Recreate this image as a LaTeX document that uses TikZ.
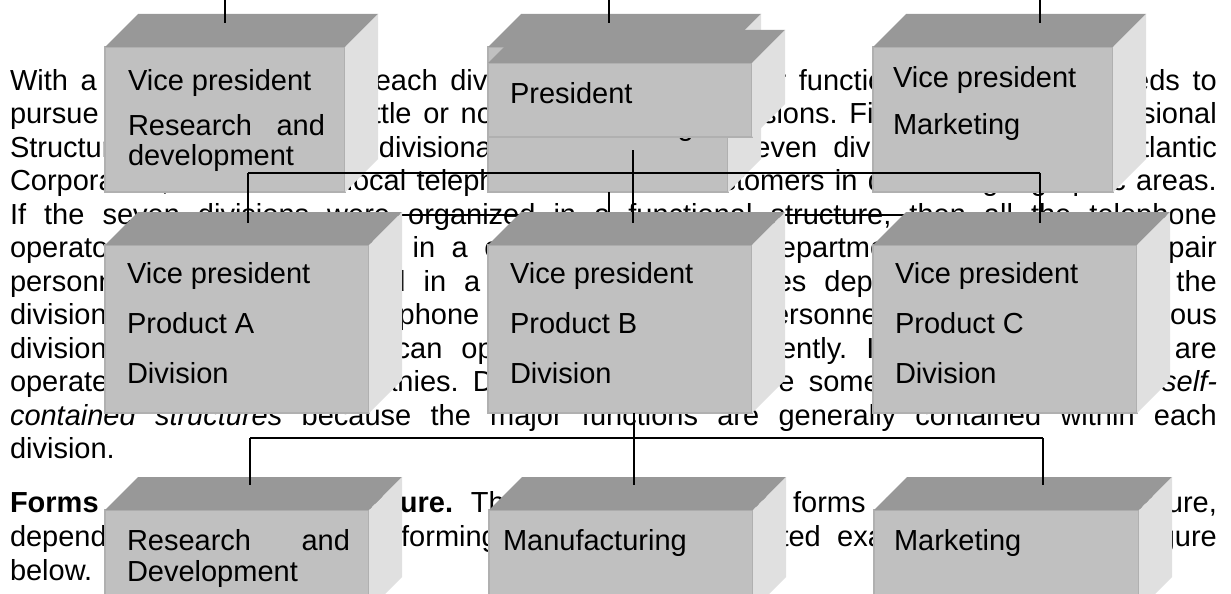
\documentclass[tikz,border=0pt]{standalone}
\usepackage{fontspec}
\setmainfont{Liberation Sans}
\usetikzlibrary{positioning}
\definecolor{frontgray}{RGB}{192,192,192}
\definecolor{topgray}{RGB}{152,152,152}
\definecolor{sidegray}{RGB}{224,224,224}
\definecolor{edgegray}{RGB}{176,176,176}
\frenchspacing

% top and right faces of a box whose front face is node #1
\newcommand{\boxfaces}[1]{%
  \fill[topface] (#1.north west) -- ++(33,-33) -- ([shift={(33,-33)}]#1.north east) -- (#1.north east) -- cycle;
  \fill[sideface] (#1.north east) -- ++(33,-33) -- ([shift={(33,-33)}]#1.south east) -- (#1.south east) -- cycle;}

\begin{document}
\begin{tikzpicture}[x=1pt, y=-1pt,
    every node/.style={inner sep=0pt, outer sep=0pt, font=\fontsize{29}{33.5}\selectfont},
    paraline/.style={anchor=base west},
    frontface/.style={fill=frontgray, draw=edgegray, line width=1.5pt, anchor=north west},
    topface/.style={fill=topgray},
    sideface/.style={fill=sidegray},
    boxlabel/.style={anchor=base west},
    link/.style={draw=black, line width=1.6pt}
]
\useasboundingbox (0,0) rectangle (1231,594);
\fill[white] (0,0) rectangle (1231,594);
\clip (0,0) rectangle (1231,594);

% text of the page
\node[paraline] (l1) at (10,90) {\makebox[1207pt][s]{With a divisional structure, each division has all the major functions that the unit needs to}};
\node[paraline] (l2) at (10,123.5) {\makebox[1207pt][s]{pursue its own goals with little or no help from other divisions. Figure 2 shows a Divisional}};
\node[paraline] (l3) at (10,157) {\makebox[1207pt][s]{Structure. It illustrates the divisional structure of the seven divisions of the Bell Atlantic}};
\node[paraline] (l4) at (10,190.5) {\makebox[1207pt][s]{Corporation, which offers local telephone service to customers in different geographic areas.}};
\node[paraline] (l5) at (10,224) {\makebox[1207pt][s]{If the seven divisions were organized in a functional structure, then all the telephone}};
\node[paraline] (l6) at (10,257.5) {\makebox[1207pt][s]{operators would be grouped in a centralized services department, and all of the repair}};
\node[paraline] (l7) at (10,291) {\makebox[1207pt][s]{personnel would be grouped in a separate field services department. However, in the}};
\node[paraline] (l8) at (10,324.5) {\makebox[1207pt][s]{divisional structure, all the telephone operators and repair personnel are located in the various}};
\node[paraline] (l9) at (10,358) {\makebox[1207pt][s]{divisions, so each division can operate quite independently. In essence, divisions are}};
\node[paraline] (l10) at (10,391.5) {\makebox[1207pt][s]{operated as separate companies. Divisional structures are sometimes referred to as \textit{self-}}};
\node[paraline] (l11) at (10,425) {\makebox[1207pt][s]{\textit{contained structures} because the major functions are generally contained within each}};
\node[paraline] (l12) at (10,458.5) {division.};
\node[paraline] (l13) at (10,512) {\makebox[1207pt][s]{\textbf{Forms of Divisional Structure.} There are three basic forms of a divisional structure,}};
\node[paraline] (l14) at (10,546) {\makebox[1207pt][s]{depending on the basis for forming divisions, as illustrated examples in the next figure}};
\node[paraline] (l15) at (10,580) {below.};

% functional chart
\node[frontface, minimum width=240, minimum height=145] (vprd) at (105,47) {};
\boxfaces{vprd}
\node[boxlabel] (vprd-a) at ([shift={(23,43)}]vprd.north west) {Vice president};
\node[boxlabel] (vprd-b) at ([shift={(23,88)}]vprd.north west) {\makebox[197pt][s]{Research and}};
\node[boxlabel] (vprd-c) at ([shift={(23,118)}]vprd.north west) {development};

\node[frontface, minimum width=240, minimum height=145] (vpmfg) at (488,47) {};
\boxfaces{vpmfg}
\node[boxlabel] (vpmfg-a) at ([shift={(22,43)}]vpmfg.north west) {Vice president};
\node[boxlabel] (vpmfg-b) at ([shift={(22,88)}]vpmfg.north west) {Manufacturing};

\node[frontface, minimum width=240, minimum height=145] (vpmkt) at (873,47) {};
\boxfaces{vpmkt}
\node[boxlabel] (vpmkt-a) at ([shift={(20,41)}]vpmkt.north west) {Vice president};
\node[boxlabel] (vpmkt-b) at ([shift={(20,87)}]vpmkt.north west) {Marketing};

\coordinate (up1) at (225,0);
\coordinate (up2) at (609,0);
\coordinate (up3) at (1040,0);
\draw[link] (up1) -- ++(0,23);
\draw[link] (up2) -- ++(0,23);
\draw[link] (up3) -- ++(0,23);

% divisional chart
\node[frontface, minimum width=264, minimum height=74] (pres) at (488,63) {};
\boxfaces{pres}
\node[boxlabel] (pres-a) at ([shift={(22,40)}]pres.north west) {President};

\coordinate (bar1) at (248,215);
\coordinate (bar2) at (1040,215);
\draw[link] (vpmfg.south -| up2) -- (up2 |- bar1);
\draw[link] (bar1) -- (bar2);

\node[frontface, minimum width=264, minimum height=168] (proda) at (105,245) {};
\boxfaces{proda}
\node[frontface, minimum width=264, minimum height=168] (prodb) at (488,245) {};
\boxfaces{prodb}
\node[frontface, minimum width=264, minimum height=168] (prodc) at (873,245) {};
\boxfaces{prodc}
\foreach \n/\p in {proda/A, prodb/B, prodc/C} {
  \node[boxlabel] (\n-a) at ([shift={(22,38)}]\n.north west) {Vice president};
  \node[boxlabel] (\n-b) at ([shift={(22,88)}]\n.north west) {Product \p};
  \node[boxlabel] (\n-c) at ([shift={(22,138)}]\n.north west) {Division};
}

\coordinate (stem) at (633,150);
\coordinate (fork) at (633,173);
\coordinate (forka) at (248,173);
\coordinate (forkc) at (1040,173);
\draw[link] (stem) -- (fork |- 0,223);
\draw[link] (forka) -- (forkc);
\draw[link] (forka) -- ++(0,50);
\draw[link] (forkc) -- ++(0,50);

% departments
\node[frontface, minimum width=264, minimum height=100] (rd) at (105,510) {};
\boxfaces{rd}
\node[frontface, minimum width=264, minimum height=100] (mfg) at (489,510) {};
\boxfaces{mfg}
\node[frontface, minimum width=265, minimum height=100] (mkt) at (874,510) {};
\boxfaces{mkt}
\node[boxlabel] (rd-a) at ([shift={(22,40)}]rd.north west) {\makebox[223pt][s]{Research and}};
\node[boxlabel] (rd-b) at ([shift={(22,71)}]rd.north west) {Development};
\node[boxlabel] (mfg-a) at ([shift={(14,40)}]mfg.north west) {Manufacturing};
\node[boxlabel] (mkt-a) at ([shift={(20,40)}]mkt.north west) {Marketing};

\coordinate (dstem) at (634,413);
\coordinate (dfork) at (634,438);
\coordinate (dforka) at (250,438);
\coordinate (dforkc) at (1043,438);
\draw[link] (dstem) -- (dfork) -- ++(0,47);
\draw[link] (dforka) -- (dforkc);
\draw[link] (dforka) -- ++(0,47);
\draw[link] (dforkc) -- ++(0,47);
\end{tikzpicture}
\end{document}
